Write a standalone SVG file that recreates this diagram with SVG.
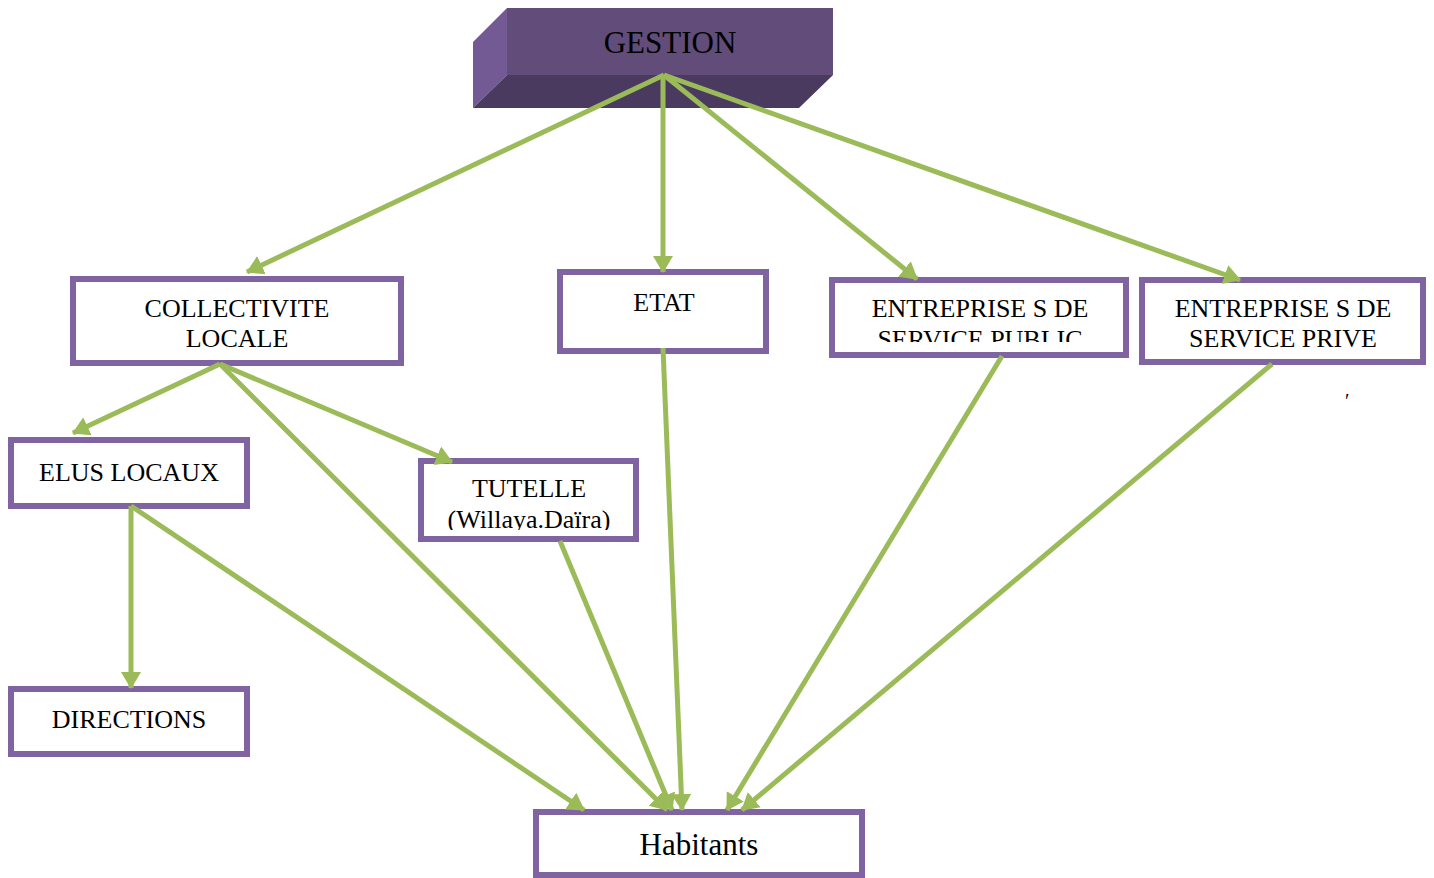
<svg xmlns="http://www.w3.org/2000/svg" width="1434" height="878" viewBox="0 0 1434 878">
<style>
.box{fill:#fff;stroke:#8064a2;stroke-width:6}
.t{font-family:"Liberation Serif","Times New Roman",serif;font-size:26px;fill:#000;text-anchor:middle}
.c{stroke:#9bbb59;stroke-width:5;fill:none;marker-end:url(#ah)}
</style>
<defs>
<marker id="ah" markerUnits="userSpaceOnUse" markerWidth="18" markerHeight="22" refX="16" refY="10" orient="auto" viewBox="0 0 18 20">
<path d="M0,0 L17,10 L0,20 z" fill="#9bbb59"/>
</marker>
<clipPath id="clipPub"><rect x="835" y="283" width="288" height="59"/></clipPath>
<clipPath id="clipTut"><rect x="424" y="464" width="209" height="66"/></clipPath>
</defs>
<rect width="1434" height="878" fill="#fff"/>

<g id="gestion">
<polygon points="473,42 507,8 507,75 473,108" fill="#735a94"/>
<polygon points="473,108 507,75 833,75 799,108" fill="#4b3a60"/>
<rect x="507" y="8" width="326" height="67" fill="#614c7a"/>
<text class="t" x="670" y="53" style="font-size:31px">GESTION</text>
</g>

<g id="collectivite">
<rect class="box" x="73" y="279" width="328" height="84"/>
<text class="t" x="237" y="317">COLLECTIVITE</text>
<text class="t" x="237" y="347">LOCALE</text>
</g>

<g id="etat">
<rect class="box" x="560" y="272" width="206" height="79"/>
<text class="t" x="664" y="311">ETAT</text>
</g>

<g id="public">
<rect class="box" x="832" y="280" width="294" height="75"/>
<text class="t" x="980" y="317">ENTREPRISE S DE</text>
<text class="t" x="980" y="348" clip-path="url(#clipPub)">SERVICE PUBLIC</text>
</g>

<g id="prive">
<rect class="box" x="1142" y="280" width="281" height="82"/>
<text class="t" x="1283" y="317">ENTREPRISE S DE</text>
<text class="t" x="1283" y="347">SERVICE PRIVE</text>
</g>

<text x="1345" y="408" style="font-family:'Liberation Serif',serif;font-size:20px">′</text>

<g id="elus">
<rect class="box" x="11" y="440" width="236" height="66"/>
<text class="t" x="129" y="481">ELUS LOCAUX</text>
</g>

<g id="tutelle">
<rect class="box" x="421" y="461" width="215" height="78"/>
<text class="t" x="529" y="497">TUTELLE</text>
<text class="t" x="529" y="528" clip-path="url(#clipTut)">(Willaya.Daïra)</text>
</g>

<g id="directions">
<rect class="box" x="11" y="689" width="236" height="65"/>
<text class="t" x="129" y="728">DIRECTIONS</text>
</g>

<g id="habitants">
<rect class="box" x="536" y="812" width="326" height="63"/>
<text class="t" x="699" y="855" style="font-size:31px">Habitants</text>
</g>

<g id="connectors">
<line class="c" x1="664" y1="75" x2="247" y2="272"/>
<line class="c" x1="663" y1="75" x2="663" y2="272"/>
<line class="c" x1="664" y1="75" x2="917" y2="279"/>
<line class="c" x1="664" y1="75" x2="1240" y2="280"/>
<line class="c" x1="220" y1="364" x2="73" y2="433"/>
<line class="c" x1="220" y1="364" x2="452" y2="462"/>
<line class="c" x1="220" y1="364" x2="667" y2="810"/>
<line class="c" x1="131" y1="506" x2="131" y2="688"/>
<line class="c" x1="131" y1="506" x2="584" y2="810"/>
<line class="c" x1="560" y1="541" x2="672" y2="810"/>
<line class="c" x1="663" y1="348" x2="682" y2="810"/>
<line class="c" x1="1002" y1="356" x2="727" y2="810"/>
<line class="c" x1="1272" y1="364" x2="742" y2="810"/>
</g>
</svg>
